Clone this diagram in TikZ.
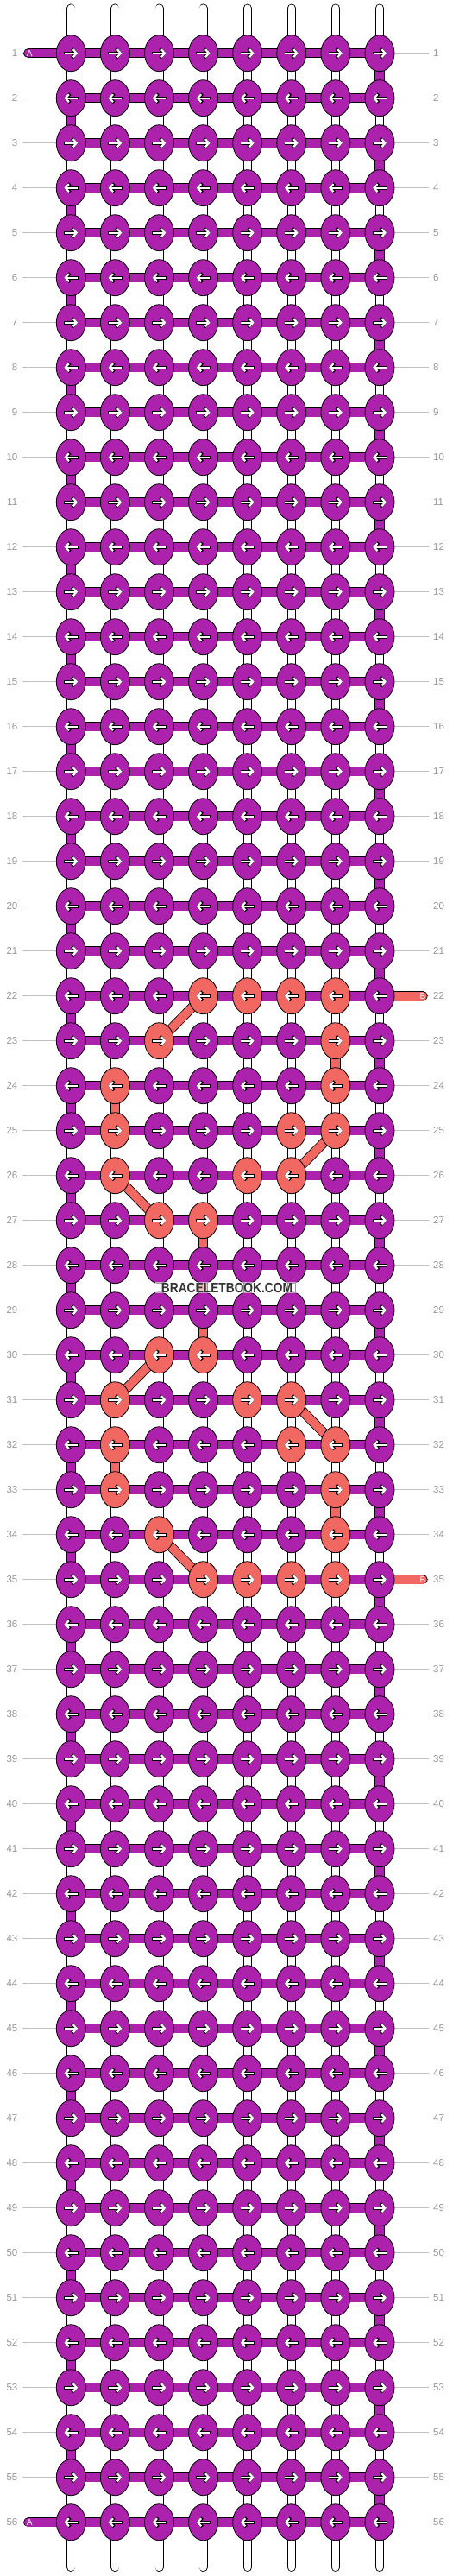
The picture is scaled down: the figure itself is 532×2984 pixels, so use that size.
\documentclass[tikz,border=0pt]{standalone}
\usepackage{fontspec}
\setmainfont{Liberation Sans}
\usetikzlibrary{arrows.meta,
                shapes.geometric}

\definecolor{threadA}{RGB}{173,34,173}
\definecolor{threadB}{RGB}{241,103,97}
\definecolor{guidegray}{RGB}{190,190,190}
\definecolor{numgray}{RGB}{150,150,150}

% knots tied in colour B
\foreach \k in {22-4,22-5,22-6,22-7,23-3,23-7,24-2,24-7,25-2,25-6,25-7,
                26-2,26-5,26-6,27-3,27-4,30-3,30-4,31-2,31-5,31-6,
                32-2,32-6,32-7,33-2,33-7,34-3,34-7,35-4,35-5,35-6,35-7}
  {\expandafter\gdef\csname knotB\k\endcsname{}}

\begin{document}
\begin{tikzpicture}[x=1pt, y=-1pt,
knot/.style = {ellipse, draw=black, line width=0.8pt, fill=#1,
               minimum width=34pt, minimum height=42pt, inner sep=0pt},
weft/.style = {draw=black, line width=0.8pt, double=#1, double distance=9.6pt},
warp/.style = {draw=black, line width=0.8pt, double=white, double distance=8.4pt,
               line cap=round},
warpline/.style = {black!22, line width=1.2pt},
guide/.style = {guidegray, line width=0.8pt},
rownum/.style = {text=numgray, inner sep=0pt, font=\fontsize{11.5}{12}\selectfont},
endlabel/.style = {text=white, inner sep=0pt, font=\fontsize{10}{10}\selectfont},
arrowedge/.style = {black, line width=3.6pt, -{Straight Barb[length=4.4pt, width=10.4pt]}},
arrowfill/.style = {white, line width=2.2pt, -{Straight Barb[length=4pt, width=9pt]}},
watermark/.style = {fill=white, fill opacity=0.6, text opacity=1, text=black!80,
                    inner xsep=7pt, inner ysep=0.8pt,
                    font=\bfseries\fontsize{16}{16}\selectfont}
                        ]
    \fill[white] (0,0) rectangle (532,2984);

    % knot positions
    \foreach \r in {1,...,56}
      \foreach \c in {1,...,8}
        \coordinate (p-\r-\c) at ({82.3+(\c-1)*51.1},{61.7+(\r-1)*52});

    % row numbers
    \foreach \r in {1,...,56} {
        \node[rownum, anchor=east] (numL-\r) at ([xshift=-61.8pt]p-\r-1) {\r};
        \node[rownum, anchor=west] (numR-\r) at ([xshift=62pt]p-\r-8) {\r};
        \draw[guide] ([xshift=5.5pt]numL-\r.east) -- (p-\r-1);
        \draw[guide] (p-\r-8) -- ([xshift=-5pt]numR-\r.west);
    }

    % vertical threads
    \foreach \c in {1,...,8} {
        \coordinate (top-\c) at ([yshift=52.2pt]p-1-\c);
        \coordinate (bot-\c) at ([yshift=-52.3pt]p-56-\c);
        \draw[warp] (top-\c) -- (bot-\c);
        \draw[warpline] ([xshift=0.8pt]top-\c) -- ([xshift=0.8pt]bot-\c);
    }

    % thread A turning at the row ends
    \foreach \r in {1,...,55} {
        \pgfmathtruncatemacro{\rn}{\r+1}
        \ifodd\r\relax \def\tc{8}\else \def\tc{1}\fi
        \draw[weft=threadA] (p-\r-\tc) -- (p-\rn-\tc);
    }
    \foreach \r in {1,...,56}
        \draw[weft=threadA] (p-\r-1) -- (p-\r-8);

    \foreach \r in {1,56} {
        \coordinate (aend-\r) at ([xshift=-49.5pt]p-\r-1);
        \draw[weft=threadA, line cap=round] (aend-\r) -- (p-\r-1);
        \node[endlabel] (lblA-\r) at ([xshift=1.5pt]aend-\r) {A};
    }

    % thread B
    \foreach \a/\b in {22-4/23-3, 23-7/24-7, 24-2/25-2, 25-7/26-6, 26-2/27-3,
                       27-4/28-4, 28-4/29-4, 29-4/30-4, 30-3/31-2, 31-6/32-7,
                       32-2/33-2, 33-7/34-7, 34-3/35-4}
        \draw[weft=threadB] (p-\a) -- (p-\b);
    \foreach \r in {22,35} {
        \coordinate (bend-\r) at ([xshift=50pt]p-\r-8);
        \draw[weft=threadB, line cap=round] (p-\r-8) -- (bend-\r);
        \node[endlabel] (lblB-\r) at (bend-\r) {B};
    }

    % knots
    \foreach \r in {1,...,56} {
      \foreach \c in {1,...,8} {
        \ifcsname knotB\r-\c\endcsname \def\kfill{threadB}\else \def\kfill{threadA}\fi
        \node[knot=\kfill] (k-\r-\c) at (p-\r-\c) {};
        \ifodd\r\relax
          \draw[arrowedge] ([xshift=-8.2pt]k-\r-\c.center) -- ([xshift=7.9pt]k-\r-\c.center);
          \draw[arrowfill] ([xshift=-7.5pt]k-\r-\c.center) -- ([xshift=7.9pt]k-\r-\c.center);
        \else
          \draw[arrowedge] ([xshift=8.2pt]k-\r-\c.center) -- ([xshift=-7.9pt]k-\r-\c.center);
          \draw[arrowfill] ([xshift=7.5pt]k-\r-\c.center) -- ([xshift=-7.9pt]k-\r-\c.center);
        \fi
      }
    }

    \node[watermark] (logo) at ([yshift=-26pt]k-28-4.center -| 263,0)
        {\scalebox{0.86}[1]{BRACELETBOOK.COM}};
\end{tikzpicture}
\end{document}
